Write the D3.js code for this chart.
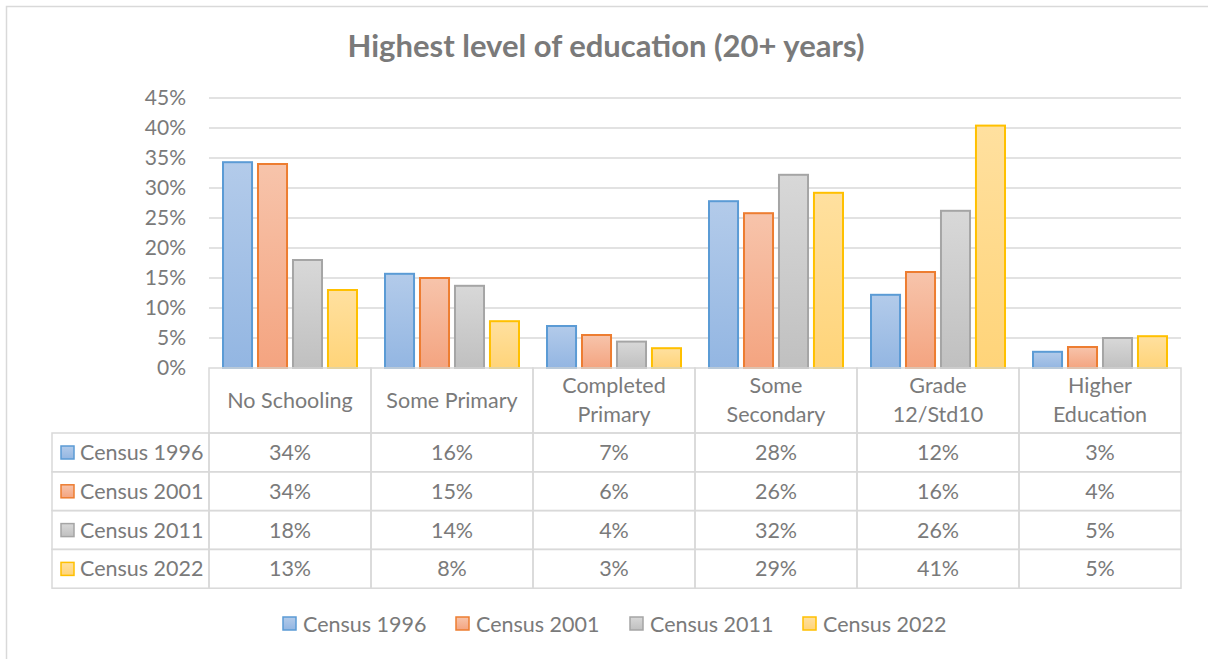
<!DOCTYPE html>
<html lang="en">
  <head>
    <meta charset="UTF-8" />
    <title>Highest level of education (20+ years)</title>
    <style>
      body { margin: 0; background: #fff; }
      svg text { font-family: Lato, "Open Sans", sans-serif; fill: #7a7a7a; }
      .grid line { stroke: #d9d9d9; stroke-width: 1.5px; }
      .cell { fill: none; stroke: #d9d9d9; stroke-width: 1.5px; }
    </style>
  </head>
  <body>
    <div id="chart"></div>
    <script src="https://cdn.jsdelivr.net/npm/d3@7"></script>
    <script>
      /* global d3 */

      const categories = [
        ["No Schooling"],
        ["Some Primary"],
        ["Completed", "Primary"],
        ["Some", "Secondary"],
        ["Grade", "12/Std10"],
        ["Higher", "Education"]
      ];
      const seriesNames = ["Census 1996", "Census 2001", "Census 2011", "Census 2022"];
      // bar heights (percent)
      const census1996 = [34.3, 15.7, 7.0, 27.8, 12.2, 2.7];
      const census2001 = [34.0, 15.0, 5.5, 25.8, 16.0, 3.5];
      const census2011 = [18.0, 13.7, 4.4, 32.2, 26.2, 5.0];
      const census2022 = [13.0, 7.8, 3.3, 29.2, 40.4, 5.3];
      // the rounded labels printed in the data table
      const table1996 = ["34%", "16%", "7%", "28%", "12%", "3%"];
      const table2001 = ["34%", "15%", "6%", "26%", "16%", "4%"];
      const table2011 = ["18%", "14%", "4%", "32%", "26%", "5%"];
      const table2022 = ["13%", "8%", "3%", "29%", "41%", "5%"];
      const yTicks = [0, 5, 10, 15, 20, 25, 30, 35, 40, 45];

      const series = [census1996, census2001, census2011, census2022];
      const tableRows = [table1996, table2001, table2011, table2022];
      const strokes = ["#5b9bd5", "#ed7d31", "#a5a5a5", "#ffc000"];
      const topFill = ["#b3cbea", "#f7c4ab", "#d8d8d8", "#ffe09f"];
      const botFill = ["#93b6e2", "#f4a480", "#c0c0c0", "#ffd479"];

      const width = 1208,
        height = 659;
      const fs = "21.5px";

      const svg = d3
        .select("#chart")
        .append("svg")
        .attr("width", width)
        .attr("height", height);

      const defs = svg.append("defs");
      seriesNames.forEach(function (s, i) {
        const g = defs
          .append("linearGradient")
          .attr("id", "grad" + i)
          .attr("x1", 0).attr("y1", 0).attr("x2", 0).attr("y2", 1);
        g.append("stop").attr("offset", "0%").attr("stop-color", topFill[i]);
        g.append("stop").attr("offset", "100%").attr("stop-color", botFill[i]);
      });

      // outer chart frame (runs off the right/bottom of the picture)
      svg.append("rect")
        .attr("x", 6.5).attr("y", 6.5)
        .attr("width", 1220).attr("height", 700)
        .attr("fill", "#fff")
        .attr("stroke", "#d9d9d9")
        .attr("stroke-width", 1.5);

      svg.append("text")
        .attr("x", 606)
        .attr("y", 57)
        .attr("text-anchor", "middle")
        .style("font-size", "31px")
        .style("font-weight", "bold")
        .text("Highest level of education (20+ years)");

      const plotLeft = 209,
        plotRight = 1181,
        plotTop = 98,
        plotBottom = 368;

      const y = d3.scaleLinear().domain([0, 45]).range([plotBottom, plotTop]);
      const x = d3
        .scaleBand()
        .domain(d3.range(categories.length))
        .range([plotLeft, plotRight]);
      const xs = d3
        .scaleBand()
        .domain(d3.range(series.length))
        .range([14, x.bandwidth() - 14])
        .paddingInner(0.17);

      svg.append("g")
        .attr("class", "grid")
        .selectAll("line")
        .data(yTicks.slice(1))
        .join("line")
        .attr("x1", plotLeft)
        .attr("x2", plotRight)
        .attr("y1", (d) => y(d))
        .attr("y2", (d) => y(d));

      const yAxis = svg
        .append("g")
        .attr("transform", "translate(" + plotLeft + ",0)")
        .call(
          d3.axisLeft(y)
            .tickValues(yTicks)
            .tickSize(0)
            .tickPadding(23)
            .tickFormat((d) => d + "%")
        );
      yAxis.select(".domain").remove();
      yAxis.selectAll("text")
        .style("font-size", "21px")
        .style("font-family", "Lato, 'Open Sans', sans-serif")
        .attr("fill", "#7a7a7a");

      series.forEach(function (vals, si) {
        svg.append("g")
          .selectAll("rect")
          .data(vals)
          .join("rect")
          .attr("x", (d, i) => x(i) + xs(si))
          .attr("y", (d) => y(d))
          .attr("width", xs.bandwidth())
          .attr("height", (d) => y(0) - y(d))
          .attr("fill", "url(#grad" + si + ")")
          .attr("stroke", strokes[si])
          .attr("stroke-width", 2);
      });

      // data table under the axis
      const headerBottom = 433,
        rowH = 38.8,
        tableLeft = 52;
      const table = svg.append("g");

      categories.forEach(function (lines, i) {
        table.append("rect")
          .attr("class", "cell")
          .attr("x", x(i))
          .attr("y", plotBottom)
          .attr("width", x.bandwidth())
          .attr("height", headerBottom - plotBottom);
        const cx = x(i) + x.bandwidth() / 2;
        const t = table.append("text")
          .attr("text-anchor", "middle")
          .style("font-size", fs);
        lines.forEach(function (l, k) {
          const y0 = lines.length === 1 ? 408 : 393 + k * 29;
          t.append("tspan").attr("x", cx).attr("y", y0).text(l);
        });
      });

      tableRows.forEach(function (row, r) {
        const ry = headerBottom + r * rowH;
        table.append("rect")
          .attr("class", "cell")
          .attr("x", tableLeft)
          .attr("y", ry)
          .attr("width", plotLeft - tableLeft)
          .attr("height", rowH);
        table.append("rect")
          .attr("x", 61).attr("y", ry + 13)
          .attr("width", 13).attr("height", 13)
          .attr("fill", "url(#grad" + r + ")")
          .attr("stroke", strokes[r])
          .attr("stroke-width", 1.5);
        table.append("text")
          .attr("x", 80)
          .attr("y", ry + 27)
          .style("font-size", fs)
          .text(seriesNames[r]);
        row.forEach(function (v, i) {
          table.append("rect")
            .attr("class", "cell")
            .attr("x", x(i))
            .attr("y", ry)
            .attr("width", x.bandwidth())
            .attr("height", rowH);
          table.append("text")
            .attr("x", x(i) + x.bandwidth() / 2)
            .attr("y", ry + 27)
            .attr("text-anchor", "middle")
            .style("font-size", fs)
            .text(v);
        });
      });

      // legend
      const legendX = [283, 456, 630, 803];
      const legend = svg.append("g");
      seriesNames.forEach(function (s, i) {
        legend.append("rect")
          .attr("x", legendX[i]).attr("y", 617)
          .attr("width", 13).attr("height", 13)
          .attr("fill", "url(#grad" + i + ")")
          .attr("stroke", strokes[i])
          .attr("stroke-width", 1.5);
        legend.append("text")
          .attr("x", legendX[i] + 20)
          .attr("y", 632)
          .style("font-size", fs)
          .text(s);
      });
    </script>
  </body>
</html>
